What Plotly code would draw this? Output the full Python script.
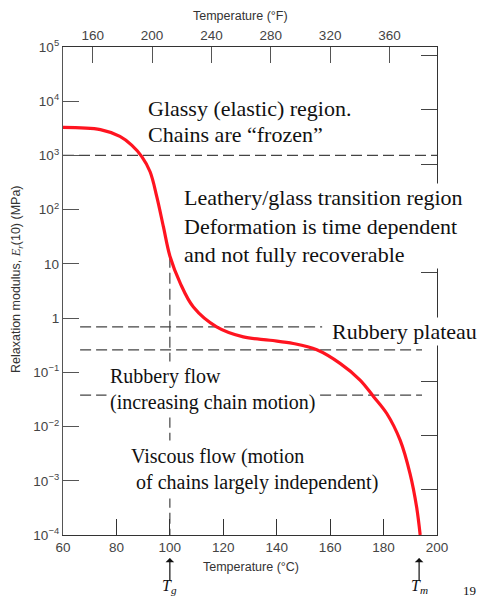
import plotly.graph_objects as go
import numpy as np

# ---- data ----
temp_c = [60, 74, 81.3, 85.7, 89.5, 92.6, 95.1, 97.6, 100.1, 103.8, 108.8, 117.5,
          127.5, 137.5, 146.2, 155, 163.7, 171.2, 176.2, 181.2, 186.2, 189.9, 192.4, 193.7]
modulus_mpa = [3300, 3000, 2240, 1550, 950, 500, 174, 48, 13.5, 4.5, 1.6, 0.69,
               0.45, 0.39, 0.34, 0.26, 0.146, 0.072, 0.036, 0.0174, 0.0056, 0.00135, 0.00032, 0.0001]

Tg = 100
Tm = 193.3
glassy_level = 1000
plateau_upper = 0.69
plateau_lower = 0.26
flow_level = 0.038
curve_at_tg = 13.5

x_ticks_c = [60, 80, 100, 120, 140, 160, 180, 200]
x_ticks_f = [160, 200, 240, 280, 320, 360]
y_ticks = [1e5, 1e4, 1e3, 1e2, 10, 1, 0.1, 0.01, 0.001, 0.0001]
y_tick_text = ["10<sup>5</sup>", "10<sup>4</sup>", "10<sup>3</sup>", "10<sup>2</sup>", "10", "1",
               "10<sup>\u22121</sup>", "10<sup>\u22122</sup>", "10<sup>\u22123</sup>", "10<sup>\u22124</sup>"]
psi_ticks = [0.1, 1, 10, 100, 1e3, 1e4, 1e5, 1e6, 1e7]
MPA_TO_PSI = 145.038

x_range = [60, 200]
y_range_log = [-4, 5]

SANS = "Liberation Sans, Arial, sans-serif"
SERIF = "Liberation Serif, Times New Roman, serif"
DASH = "11px,5px"
DASHCOL = "#444"

# the page body has a default 8px margin; size the figure so the plot lands where intended
PAGE_OFF = 8

fig = go.Figure()

# dashed guide lines
fig.add_trace(go.Scatter(x=[60, 200], y=[glassy_level, glassy_level], mode="lines",
                         line=dict(color=DASHCOL, width=1.2, dash=DASH), hoverinfo="skip"))
fig.add_trace(go.Scatter(x=[66.4, 157], y=[plateau_upper, plateau_upper], mode="lines",
                         line=dict(color=DASHCOL, width=1.2, dash=DASH), hoverinfo="skip"))
fig.add_trace(go.Scatter(x=[66.4, 194.4], y=[plateau_lower, plateau_lower], mode="lines",
                         line=dict(color=DASHCOL, width=1.2, dash=DASH), hoverinfo="skip"))
fig.add_trace(go.Scatter(x=[66.4, 194.4], y=[flow_level, flow_level], mode="lines",
                         line=dict(color=DASHCOL, width=1.2, dash=DASH), hoverinfo="skip"))
fig.add_trace(go.Scatter(x=[Tg, Tg], y=[curve_at_tg, 1e-4], mode="lines",
                         line=dict(color=DASHCOL, width=1.2, dash=DASH), hoverinfo="skip"))

# main curve
fig.add_trace(go.Scatter(x=temp_c, y=modulus_mpa, mode="lines",
                         line=dict(color="#ff1420", width=3.2, shape="spline", smoothing=1.0),
                         hoverinfo="skip"))

# helper traces to create the top and right axes
fig.add_trace(go.Scatter(x=[], y=[], xaxis="x2", yaxis="y", showlegend=False))
fig.add_trace(go.Scatter(x=[], y=[], xaxis="x", yaxis="y2", showlegend=False))

tickfont = dict(family=SANS, size=13.5, color="#444")

fig.update_layout(
    width=489 - PAGE_OFF, height=600 - PAGE_OFF,
    margin=dict(l=63 - PAGE_OFF, r=52, t=47 - PAGE_OFF, b=65, autoexpand=False),
    paper_bgcolor="white", plot_bgcolor="white",
    showlegend=False,
    xaxis=dict(range=x_range, tickvals=x_ticks_c, ticks="inside", ticklen=16, tickwidth=1.2,
               tickcolor="#333", showline=True, linecolor="#333", linewidth=1.3, automargin=False,
               showgrid=False, zeroline=False, tickfont=tickfont),
    xaxis2=dict(range=[x_range[0] * 9 / 5 + 32, x_range[1] * 9 / 5 + 32], overlaying="x", side="top",
                anchor="y", tickvals=x_ticks_f, ticks="inside", ticklen=16, tickwidth=1.2, automargin=False,
                tickcolor="#555", showline=True, linecolor="#333", linewidth=1.3,
                showgrid=False, zeroline=False, tickfont=tickfont),
    yaxis=dict(type="log", range=y_range_log, tickvals=y_ticks, ticktext=y_tick_text,
               ticks="inside", ticklen=16, tickwidth=1.2, tickcolor="#555", automargin=False,
               showline=True, linecolor="#555", linewidth=1.3,
               showgrid=False, zeroline=False, tickfont=tickfont),
    yaxis2=dict(type="log", range=[y_range_log[0] + np.log10(MPA_TO_PSI), y_range_log[1] + np.log10(MPA_TO_PSI)],
                overlaying="y", side="right", anchor="x", tickvals=psi_ticks, showticklabels=False,
                ticks="inside", ticklen=16, tickwidth=1.2, tickcolor="#444", automargin=False,
                showline=True, linecolor="#333", linewidth=1.3,
                showgrid=False, zeroline=False),
)

def px_x(px):
    return (px - 63) / 374

def px_y(py):
    return (535 - py) / 488

ann = []
# region texts
ann.append(dict(text="Glassy (elastic) region.", x=px_x(146), y=px_y(108), xref="paper", yref="paper",
                xanchor="left", yanchor="middle", showarrow=False, font=dict(family=SERIF, size=22, color="#111")))
ann.append(dict(text="Chains are \u201cfrozen\u201d", x=px_x(146), y=px_y(135), xref="paper", yref="paper",
                xanchor="left", yanchor="middle", showarrow=False, font=dict(family=SERIF, size=22, color="#111")))
ann.append(dict(text="Leathery/glass transition region<br>Deformation is time dependent<br>and not fully recoverable",
                x=px_x(182), y=px_y(226), xref="paper", yref="paper", align="left",
                xanchor="left", yanchor="middle", showarrow=False, bgcolor="white",
                font=dict(family=SERIF, size=22, color="#111")))
ann.append(dict(text="Rubbery plateau", x=px_x(330), y=px_y(331), xref="paper", yref="paper",
                xanchor="left", yanchor="middle", showarrow=False, bgcolor="white",
                font=dict(family=SERIF, size=22, color="#111")))
ann.append(dict(text="Rubbery flow<br>(increasing chain motion)", x=px_x(106), y=px_y(389), xref="paper", yref="paper",
                align="left", xanchor="left", yanchor="middle", showarrow=False, bgcolor="white", borderpad=3,
                font=dict(family=SERIF, size=20, color="#111")))
ann.append(dict(text="Viscous flow (motion<br>\u00a0of chains largely independent)", x=px_x(126), y=px_y(469),
                xref="paper", yref="paper", align="left", xanchor="left", yanchor="middle", showarrow=False,
                bgcolor="white", borderpad=4, font=dict(family=SERIF, size=20, color="#111")))

# axis titles
ann.append(dict(text="Temperature (\u00b0C)", x=px_x(251), y=px_y(567), xref="paper", yref="paper",
                xanchor="center", yanchor="middle",
                showarrow=False, font=dict(family=SANS, size=12.5, color="#333")))
ann.append(dict(text="Temperature (\u00b0F)", x=px_x(240), y=px_y(16), xref="paper", yref="paper",
                xanchor="center", yanchor="middle",
                showarrow=False, font=dict(family=SANS, size=12.5, color="#333")))
ann.append(dict(text="Relaxation modulus, <span style='font-family:Liberation Serif;font-style:italic'>E<sub>r</sub></span>(10) (MPa)",
                x=px_x(17), y=px_y(279), xref="paper", yref="paper", textangle=-90,
                xanchor="center", yanchor="middle",
                showarrow=False, font=dict(family=SANS, size=12.5, color="#333")))

# Tg / Tm markers
for tval, lab in [(Tg, "<i>T<sub>g</sub></i>"), (Tm, "<i>T<sub>m</sub></i>")]:
    ann.append(dict(text="", x=tval, y=px_y(558), xref="x", yref="paper", showarrow=True,
                    ax=0, ay=24, arrowhead=1, arrowsize=1.2, arrowwidth=1.2, arrowcolor="#111"))
    ann.append(dict(text=lab, x=tval, y=px_y(586), xref="x", yref="paper", showarrow=False,
                    xanchor="center", yanchor="middle",
                    font=dict(family=SERIF, size=16, color="#111")))

ann.append(dict(text="19", x=px_x(470), y=px_y(590), xref="paper", yref="paper", showarrow=False,
                xanchor="center", yanchor="middle",
                font=dict(family=SERIF, size=13, color="#111")))

fig.update_layout(annotations=ann)

fig.write_html("out.html")
